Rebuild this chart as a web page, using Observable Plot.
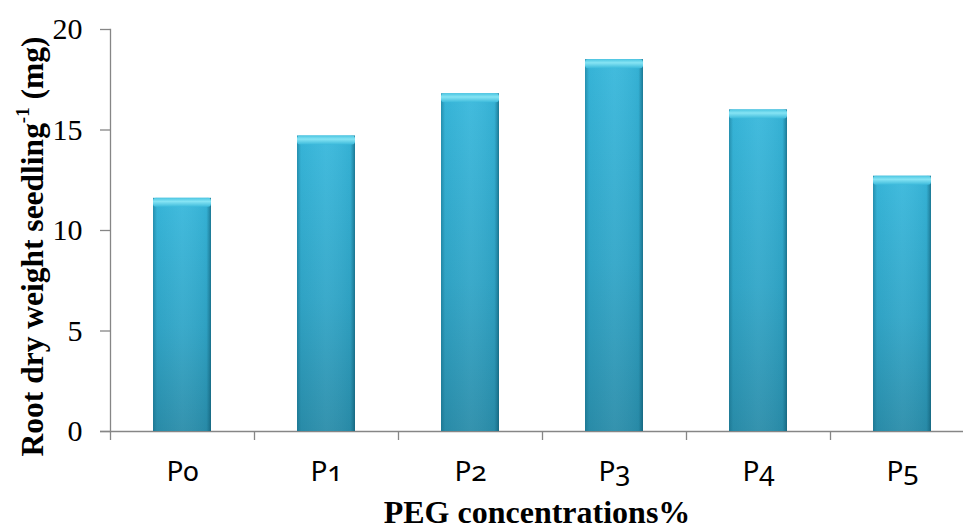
<!DOCTYPE html>
<html>
<head>
<meta charset="utf-8">
<script src="https://cdn.jsdelivr.net/npm/d3@7"></script>
<script src="https://cdn.jsdelivr.net/npm/@observablehq/plot@0.6"></script>
<style>
  html, body { margin: 0; padding: 0; background: #fff; }
  #chart svg { display: block; }
</style>
</head>
<body>
<div id="chart"></div>
<script>
// Root dry weight per seedling under increasing PEG concentrations
const categories = ["P0", "P1", "P2", "P3", "P4", "P5"];
const values = [11.6, 14.7, 16.8, 18.5, 16.0, 12.7];
const yTicks = [0, 5, 10, 15, 20];
const xTitle = "PEG concentrations%";
const yTitle = "Root dry weight seedling-1 (mg)";

const data = categories.map((c, i) => ({ category: c, value: values[i] }));

const axisGray = "#868686";
const xScaleOptions = {
  type: "band",
  domain: categories,
  range: [110, 974],
  paddingInner: 0.6,
  paddingOuter: 0.3,
  align: 0.5
};
const step = Plot.scale({ x: xScaleOptions }).step;

const plot = Plot.plot({
  width: 963,
  height: 528,
  marginTop: 29,
  marginBottom: 97,
  marginLeft: 110,
  marginRight: 0,
  style: { background: "#fff", fontFamily: "Liberation Serif", overflow: "hidden" },
  x: xScaleOptions,
  y: { domain: [0, 20] },
  marks: [
    // axis lines
    Plot.frame({ anchor: "left", stroke: axisGray, strokeWidth: 1.3 }),
    Plot.ruleY([0], { stroke: axisGray, strokeWidth: 1.3, insetLeft: -10 }),
    // category boundary ticks below the baseline
    Plot.ruleX(categories, { x: d => d, y1: 0, y2: 0, insetBottom: -9, dx: -step / 2, stroke: axisGray, strokeWidth: 1.3 }),
    // bars: body, side shading, top bevel
    Plot.barY(data, { x: "category", y: "value", fill: "url(#barBody)" }),
    Plot.barY(data, { x: "category", y: "value", fill: "url(#barSides)" }),
    Plot.barY(data, { x: "category", y1: "value", y2: "value", insetBottom: -9, fill: "url(#barCap)", rx: 3 }),
    Plot.axisY({ ticks: yTicks, tickSize: 10, tickPadding: 18, stroke: axisGray, strokeWidth: 1.3, fill: "#000", fontSize: 30, fontFamily: "Liberation Serif", label: null }),
    Plot.axisX({ tickSize: 0, tickPadding: 30, fill: "#000", fontSize: 28, fontFamily: "Noto Sans", label: null, className: "cat-labels" }),
    Plot.text([xTitle], { frameAnchor: "bottom", lineAnchor: "bottom", dy: 91, fontSize: 32, fontWeight: "bold", fontFamily: "Liberation Serif", fill: "#000" }),
    Plot.text([yTitle], { frameAnchor: "left", textAnchor: "middle", rotate: -90, dx: -78, dy: 16, fontSize: 31.5, fontWeight: "bold", fontFamily: "Liberation Serif", fill: "#000", className: "y-title" })
  ]
});

const svg = d3.select(plot);
const defs = svg.insert("defs", ":first-child");

const body = defs.append("linearGradient").attr("id", "barBody").attr("x1", 0).attr("y1", 0).attr("x2", 0).attr("y2", 1);
body.append("stop").attr("offset", "0%").attr("stop-color", "#38b8dc");
body.append("stop").attr("offset", "55%").attr("stop-color", "#31a6c8");
body.append("stop").attr("offset", "100%").attr("stop-color", "#2a8daa");

const sides = defs.append("linearGradient").attr("id", "barSides").attr("x1", 0).attr("y1", 0).attr("x2", 1).attr("y2", 0);
sides.append("stop").attr("offset", "0%").attr("stop-color", "#0f5f78").attr("stop-opacity", 0.45);
sides.append("stop").attr("offset", "7%").attr("stop-color", "#0f5f78").attr("stop-opacity", 0.05);
sides.append("stop").attr("offset", "50%").attr("stop-color", "#ffffff").attr("stop-opacity", 0.05);
sides.append("stop").attr("offset", "92%").attr("stop-color", "#0f5f78").attr("stop-opacity", 0.08);
sides.append("stop").attr("offset", "100%").attr("stop-color", "#0a4d63").attr("stop-opacity", 0.6);

const cap = defs.append("linearGradient").attr("id", "barCap").attr("x1", 0).attr("y1", 0).attr("x2", 0).attr("y2", 1);
cap.append("stop").attr("offset", "0%").attr("stop-color", "#4cc6e2");
cap.append("stop").attr("offset", "40%").attr("stop-color", "#86e4f4");
cap.append("stop").attr("offset", "100%").attr("stop-color", "#3cbadb");

// superscript "-1" in the y-axis title
svg.selectAll(".y-title text").each(function () {
  const t = d3.select(this);
  const full = t.text();
  const [before, after] = full.split("-1");
  t.text(null);
  t.append("tspan").text(before);
  t.append("tspan").attr("font-size", "0.6em").attr("dy", "-0.7em").text("-1");
  t.append("tspan").attr("dy", "0.42em").text(after);
});

// old-style figures on the category labels
svg.selectAll(".cat-labels text").style("font-variant-numeric", "oldstyle-nums");

document.getElementById("chart").appendChild(plot);
</script>
</body>
</html>
